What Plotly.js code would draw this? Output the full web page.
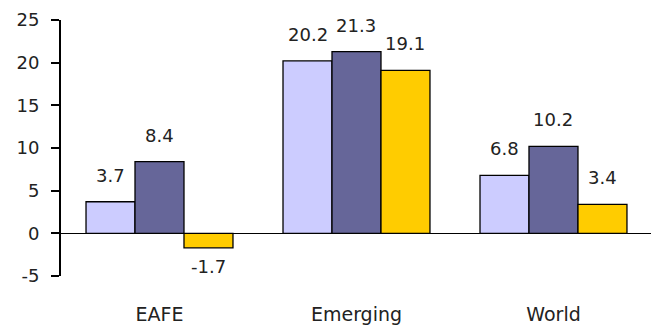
<!DOCTYPE html>
<html>
<head>
<meta charset="utf-8">
<script src="https://cdn.plot.ly/plotly-3.0.1.min.js"></script>
<style>
  html, body { margin: 0; padding: 0; background: #fff; }
  #chart { width: 651px; height: 330px; }
</style>
</head>
<body>
<div id="chart"></div>
<script>
// Regions on the category axis
const regions = ['EAFE', 'Emerging', 'World'];

// Three return series per region
const seriesA = [3.7, 20.2, 6.8];
const seriesB = [8.4, 21.3, 10.2];
const seriesC = [-1.7, 19.1, 3.4];

const yTicks = [-5, 0, 5, 10, 15, 20, 25];

const seriesList = [seriesA, seriesB, seriesC];
const fills = ['#CCCCFF', '#666699', '#FFCC00'];

const barGap = 0.254;
const textColor = '#222222';

const traces = seriesList.map((vals, i) => ({
  type: 'bar',
  x: regions,
  y: vals,
  marker: { color: fills[i], line: { color: '#000', width: 1.3 } },
  hoverinfo: 'skip'
}));

// Value labels sit above positive bars and below negative ones
const barWidth = (1 - barGap) / seriesList.length;
const annotations = [];
seriesList.forEach((vals, i) => {
  vals.forEach((v, j) => {
    annotations.push({
      x: j + (i - (seriesList.length - 1) / 2) * barWidth,
      y: v,
      xref: 'x', yref: 'y',
      text: v.toFixed(1),
      showarrow: false,
      yanchor: v >= 0 ? 'bottom' : 'top',
      yshift: v >= 0 ? 14 : -6,
      font: { family: 'DejaVu Sans', size: 18, color: textColor }
    });
  });
});

const layout = {
  width: 651,
  height: 330,
  margin: { l: 61, r: 0, t: 20, b: 54 },
  paper_bgcolor: '#fff',
  plot_bgcolor: '#fff',
  showlegend: false,
  barmode: 'group',
  bargap: barGap,
  bargroupgap: 0,
  xaxis: {
    type: 'category',
    range: [-0.5, 2.495],
    showline: false,
    showgrid: false,
    zeroline: false,
    ticks: '',
    ticklabelstandoff: 25,
    tickfont: { family: 'DejaVu Sans', size: 19, color: textColor }
  },
  yaxis: {
    range: [-5, 25],
    tickvals: yTicks,
    ticktext: yTicks.map(String),
    showgrid: false,
    showline: true,
    linecolor: '#000',
    linewidth: 2,
    ticks: 'outside',
    ticklen: 8,
    tickwidth: 2,
    tickcolor: '#000',
    ticklabelstandoff: 8,
    zeroline: true,
    zerolinecolor: '#000',
    zerolinewidth: 1,
    tickfont: { family: 'DejaVu Sans', size: 18, color: textColor }
  },
  annotations: annotations
};

Plotly.newPlot('chart', traces, layout, { staticPlot: true, displayModeBar: false });
</script>
</body>
</html>
